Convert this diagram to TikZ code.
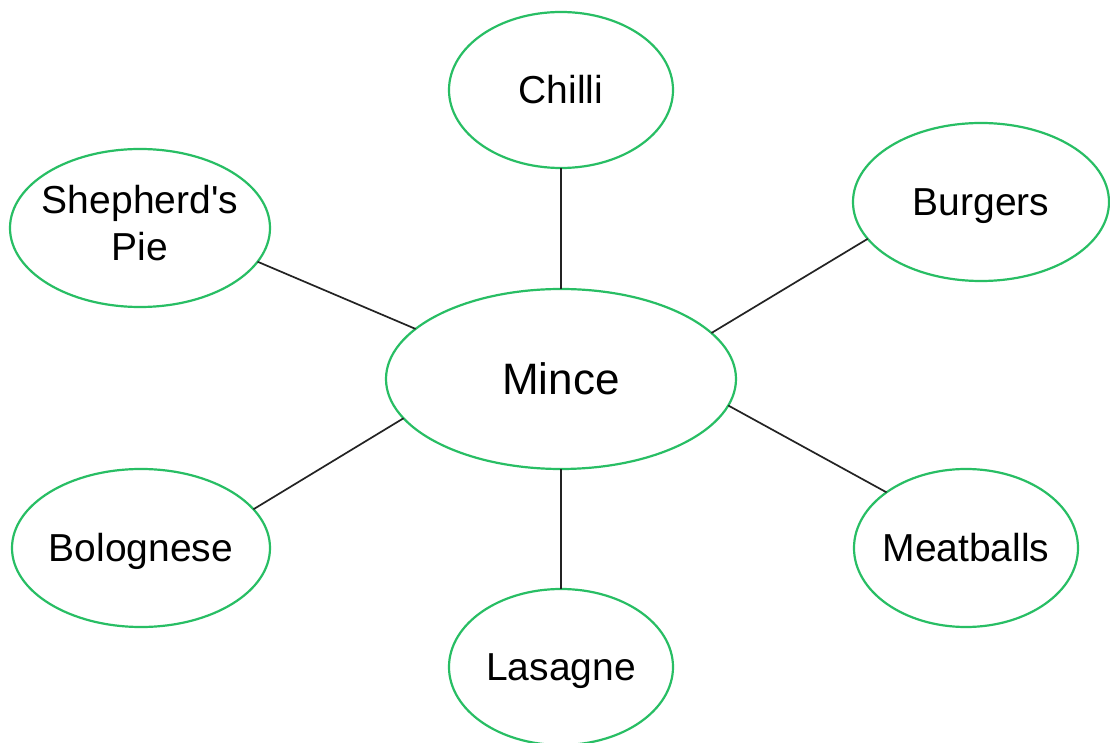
\documentclass[tikz,border=0pt]{standalone}
\usepackage{fontspec}
\setmainfont{Liberation Sans}[Ligatures=TeXOff]
\usetikzlibrary{shapes.geometric}
\definecolor{ringgreen}{RGB}{40,190,100}
\definecolor{linkgray}{RGB}{35,35,35}
\newcommand{\zw}[1]{\makebox[0pt][c]{\begin{tabular}{@{}c@{}}#1\end{tabular}}}
\newcommand{\zo}[1]{\makebox[0pt][c]{\raisebox{-0.358em}[0pt][0pt]{#1}}}
\tikzset{
  topic/.style={ellipse, draw=ringgreen, line width=1.1pt, inner sep=0pt, outer sep=0pt,
    font=\fontsize{19.5pt}{23.5pt}\selectfont},
  link/.style={draw=linkgray, line width=0.85pt}
}
\begin{document}
\begin{tikzpicture}[x=0.5pt,y=-0.5pt]
\useasboundingbox (0,0) rectangle (1110,743);
\fill[white] (0,0) rectangle (1110,743);
\node[topic, minimum width=175pt, minimum height=90pt, font=\fontsize{22pt}{26pt}\selectfont] (mince) at (561,379) {\zo{Mince}};
\node[topic, minimum width=112pt, minimum height=78pt] (chilli) at (561,90) {\zo{Chilli}};
\node[topic, minimum width=128pt, minimum height=79pt] (burgers) at (981,202) {\zo{Burgers}};
\node[topic, minimum width=130pt, minimum height=79pt] (shep) at (140,228) {\zw{Shepherd's\\Pie}};
\node[topic, minimum width=129pt, minimum height=79pt] (bolo) at (141,548) {\zo{Bolognese}};
\node[topic, minimum width=112pt, minimum height=79pt] (meat) at (966,548) {\zo{Meatballs}};
\node[topic, minimum width=112pt, minimum height=78pt] (lasagne) at (561,667) {\zo{Lasagne}};
\draw[link] (chilli.south) -- (mince.north);
\draw[link] (mince.south) -- (lasagne.north);
\draw[link] (shep.-16.7) -- (mince.161.4);
\draw[link] (burgers.-162.3) -- (mince.17.4);
\draw[link] (bolo.19.8) -- (mince.-166.1);
\draw[link] (meat.145.5) -- (mince.-9.9);
\end{tikzpicture}
\end{document}
